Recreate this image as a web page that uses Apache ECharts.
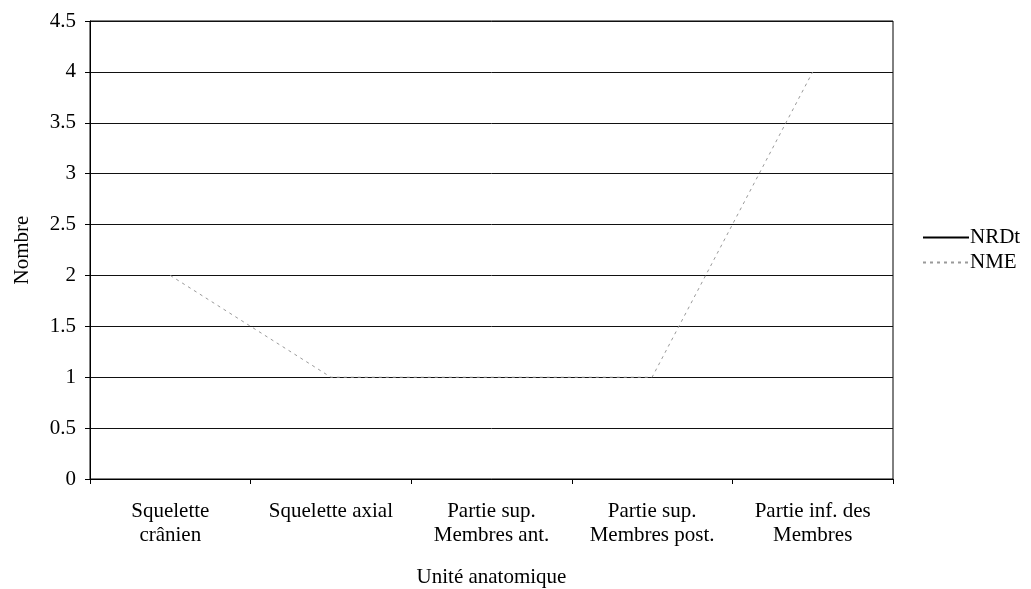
<!DOCTYPE html>
<html>
<head>
<meta charset="utf-8">
<script src="https://cdn.jsdelivr.net/npm/echarts@6/dist/echarts.min.js"></script>
<style>
  html, body { margin: 0; padding: 0; background: #fff; }
  #chart { width: 1031px; height: 589px; }
</style>
</head>
<body>
<div id="chart"></div>
<script>
// Anatomical units along the x axis
const categories = [
  'Squelette\ncrânien',
  'Squelette axial',
  'Partie sup.\nMembres ant.',
  'Partie sup.\nMembres post.',
  'Partie inf. des\nMembres'
];
// NRDt has no plotted values in this figure; only its legend entry shows
const nrdt = [null, null, null, null, null];
const nme = [2, 1, 1, 1, 4];
const yTicks = { min: 0, max: 4.5, step: 0.5 };

const serif = 'Liberation Serif, Times New Roman, serif';
const fs = 21;
const chart = echarts.init(document.getElementById('chart'));
chart.setOption({
  animation: false,
  backgroundColor: '#fff',
  textStyle: { fontFamily: serif, color: '#000' },
  grid: {
    left: 90, right: 138, top: 21, bottom: 110,
    outerBoundsMode: 'none',
    containLabel: false,
    show: true, borderColor: '#000', borderWidth: 1, backgroundColor: 'transparent'
  },
  legend: {
    orient: 'vertical',
    left: 917,
    top: 222,
    itemWidth: 46,
    itemHeight: 14,
    itemGap: 4,
    itemStyle: { opacity: 0 },
    textStyle: { fontFamily: serif, fontSize: fs, color: '#000', padding: [0, 0, 0, -4] },
    data: ['NRDt', 'NME']
  },
  xAxis: {
    type: 'category',
    data: categories,
    boundaryGap: true,
    axisLine: { lineStyle: { color: '#000', width: 1 } },
    axisTick: { show: true, interval: 0, length: 5, inside: false, lineStyle: { color: '#000' } },
    axisLabel: {
      interval: 0, margin: 20, fontFamily: serif, fontSize: fs, color: '#000',
      lineHeight: 24
    },
    name: 'Unité anatomique',
    nameLocation: 'middle',
    nameGap: 88,
    nameTextStyle: { fontFamily: serif, fontSize: fs, color: '#000' },
    splitLine: { show: false }
  },
  yAxis: {
    type: 'value',
    min: yTicks.min,
    max: yTicks.max,
    interval: yTicks.step,
    axisLine: { show: true, lineStyle: { color: '#000', width: 1 } },
    axisTick: { show: true, length: 5, lineStyle: { color: '#000' } },
    axisLabel: { margin: 14, fontFamily: serif, fontSize: fs, color: '#000' },
    splitLine: { show: true, lineStyle: { color: '#111', width: 1 } },
    name: 'Nombre',
    nameLocation: 'middle',
    nameRotate: 90,
    nameGap: 57,
    nameTextStyle: { fontFamily: serif, fontSize: fs, color: '#000' }
  },
  series: [
    {
      name: 'NRDt',
      type: 'line',
      data: nrdt,
      symbol: 'none',
      lineStyle: { color: '#000', width: 2 },
      itemStyle: { color: '#000' }
    },
    {
      name: 'NME',
      type: 'line',
      data: nme,
      symbol: 'none',
      lineStyle: { color: '#9a9a9a', width: 1, type: [3, 4] },
      itemStyle: { color: '#9a9a9a' },
      z: 3
    }
  ]
});
</script>
</body>
</html>
